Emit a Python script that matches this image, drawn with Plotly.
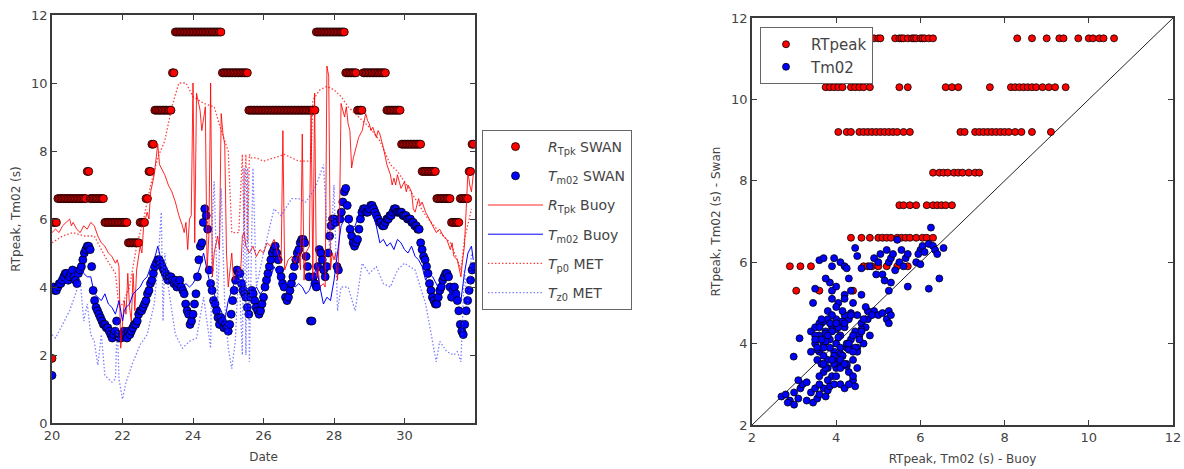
import numpy as np
import plotly.graph_objects as go

# ---------------- LEFT PANEL DATA (time series, day of month) ----------------
# SWAN output hourly starting day 20.0
swan_start_day = 20.0
# RTpeak SWAN is a stepped (binned) quantity: level and number of hourly outputs at that level
swan_rt_levels = [1.9, 5.9, 6.6, 7.4, 6.6, 5.9, 5.3, 5.9, 6.6, 7.4, 8.2, 9.2, 10.3, 11.5, 10.3, 9.2,
                  11.5, 10.3, 9.2, 10.3, 9.2, 8.2, 7.4, 6.6, 5.9, 6.6, 7.4, 8.2]
swan_rt_hours = [1, 3, 20, 2, 10, 16, 8, 4, 2, 2, 2, 12, 2, 32, 18, 46,
                 20, 8, 4, 16, 10, 14, 10, 10, 6, 6, 2, 2]
swan_tm02 = [
    1.4, 4.0, 3.9, 3.9, 4.0, 4.1, 4.1, 4.2, 4.3, 4.4, 4.4, 4.2, 4.3, 4.4, 4.5, 4.3, 4.2, 4.1, 4.4, 4.5, 4.6, 4.8, 5.0, 5.1,
    5.2, 5.2, 5.1, 4.6, 3.9, 3.6, 3.4, 3.3, 3.2, 3.1, 3.0, 2.9, 2.9, 2.8, 2.8, 2.7, 2.6, 2.5, 2.6, 2.7, 3.0, 2.6, 2.5, 2.5,
    2.6, 2.7, 2.6, 2.5, 2.7, 2.6, 2.7, 2.8, 2.9, 2.9, 3.0, 3.2, 3.3, 3.3, 3.4, 3.5, 3.6, 3.8, 3.9, 4.1, 4.2, 4.4, 4.6, 4.7,
    4.8, 4.8, 4.7, 4.6, 4.5, 4.4, 4.3, 4.2, 4.3, 4.3, 4.2, 4.1, 4.2, 4.0, 4.1, 4.2, 4.0, 3.9, 3.8, 3.5, 3.3, 3.2, 2.9, 3.0,
    3.2, 3.5, 3.8, 4.3, 4.8, 5.2, 5.3, 5.9, 6.3, 6.1, 5.7, 4.5, 4.1, 3.9, 3.6, 3.5, 3.3, 3.1, 2.9, 3.1, 3.0, 2.8, 2.9, 2.8,
    2.7, 2.9, 3.2, 3.6, 3.9, 4.2, 4.5, 4.4, 4.4, 4.1, 3.9, 3.8, 3.7, 3.4, 3.2, 3.7, 3.9, 3.8, 3.6, 3.4, 3.3, 3.2, 3.3, 3.5,
    3.7, 4.0, 4.2, 4.4, 4.6, 4.8, 5.0, 5.1, 5.2, 5.0, 4.8, 4.5, 4.3, 4.1, 4.0, 3.7, 3.6, 3.7, 3.9, 4.1, 4.3, 4.6, 4.8, 5.0,
    5.1, 5.3, 5.4, 5.4, 5.3, 4.9, 4.6, 4.3, 3.0, 3.0, 4.3, 4.1, 4.0, 4.6, 5.1, 5.0, 4.8, 4.5, 4.3, 4.6, 5.0, 5.5, 5.8, 6.0,
    6.0, 5.9, 4.6, 4.5, 6.0, 6.2, 6.5, 6.8, 6.9, 6.4, 6.0, 5.7, 5.5, 5.3, 5.2, 5.3, 5.4, 5.7, 6.0, 6.2, 6.3, 6.3, 6.2, 6.2,
    6.3, 6.4, 6.4, 6.3, 6.2, 6.1, 6.0, 5.9, 5.9, 5.8, 5.8, 5.9, 6.0, 6.0, 6.1, 6.1, 6.2, 6.3, 6.3, 6.2, 6.2, 6.2, 6.2, 6.1,
    6.1, 6.1, 6.0, 6.0, 6.0, 5.9, 5.9, 5.8, 5.8, 5.7, 5.7, 5.3, 5.1, 4.9, 4.8, 4.6, 4.4, 4.1, 3.9, 3.7, 3.6, 3.5, 3.5, 3.7,
    3.9, 4.0, 4.2, 4.3, 4.4, 4.4, 4.3, 4.0, 3.7, 3.9, 4.0, 3.8, 3.6, 3.3, 2.9, 2.7, 2.6, 2.9, 3.3, 3.6, 3.9, 4.2, 4.5, 4.6]

buoy_rt_day = [20.0, 20.1, 20.2, 20.3, 20.4, 20.5, 20.55, 20.6, 20.7, 20.8, 20.9, 21.0, 21.1, 21.2, 21.3, 21.4,
    21.5, 21.6, 21.7, 21.8, 21.85, 21.9, 21.95, 22.0, 22.05, 22.1, 22.15, 22.2, 22.25, 22.3, 22.35, 22.4,
    22.5, 22.55, 22.6, 22.7, 22.75, 22.8, 22.9, 23.0, 23.05, 23.1, 23.2, 23.3, 23.4, 23.5, 23.6, 23.7,
    23.75, 23.8, 23.85, 23.9, 23.95, 24.0, 24.05, 24.1, 24.15, 24.2, 24.25, 24.3, 24.35, 24.4, 24.45, 24.5,
    24.55, 24.6, 24.7, 24.75, 24.8, 24.85, 24.9, 24.95, 25.0, 25.05, 25.1, 25.15, 25.2, 25.3, 25.35, 25.4,
    25.45, 25.5, 25.6, 25.7, 25.8, 25.9, 26.0, 26.1, 26.2, 26.3, 26.4, 26.5, 26.55, 26.6, 26.7, 26.8,
    26.9, 27.0, 27.05, 27.1, 27.15, 27.2, 27.3, 27.35, 27.4, 27.45, 27.5, 27.55, 27.6, 27.7, 27.75, 27.8,
    27.85, 27.9, 27.95, 28.0, 28.05, 28.1, 28.15, 28.2, 28.25, 28.3, 28.35, 28.4, 28.45, 28.5, 28.55, 28.6,
    28.7, 28.8, 28.85, 28.9, 28.95, 29.0, 29.05, 29.1, 29.2, 29.25, 29.3, 29.4, 29.5, 29.6, 29.65, 29.7,
    29.75, 29.8, 29.9, 30.0, 30.05, 30.1, 30.2, 30.25, 30.3, 30.4, 30.45, 30.5, 30.6, 30.7, 30.8, 30.9,
    31.0, 31.1, 31.2, 31.3, 31.35, 31.4, 31.5, 31.6, 31.65, 31.7, 31.75, 31.8, 31.85, 31.9, 31.95]
buoy_rtpeak = [5.6, 5.7, 5.6, 5.8, 5.9, 6.0, 5.8, 5.9, 5.7, 5.6, 5.8, 5.7, 5.9, 5.8, 5.5, 5.3,
    5.2, 5.0, 4.9, 4.7, 4.8, 4.6, 2.2, 3.0, 3.6, 3.2, 4.4, 3.4, 3.0, 4.4, 3.3, 4.5,
    5.2, 5.0, 5.8, 6.2, 6.0, 6.8, 7.3, 8.2, 7.6, 7.5, 7.3, 7.0, 6.8, 6.5, 6.1, 5.8,
    5.6, 5.9, 5.1, 6.0, 6.1, 10.0, 5.3, 9.7, 9.4, 9.2, 8.6, 8.9, 9.3, 4.5, 5.5, 10.0,
    4.3, 5.0, 5.5, 5.1, 9.1, 8.5, 8.2, 5.0, 4.0, 4.5, 5.0, 4.2, 4.3, 4.6, 4.4, 5.5,
    5.6, 5.2, 5.0, 5.2, 4.9, 5.1, 5.0, 5.3, 5.2, 5.4, 5.0, 4.7, 8.6, 4.5, 4.8, 4.9,
    4.7, 5.0, 4.5, 8.5, 4.2, 5.0, 5.2, 9.3, 4.2, 9.7, 4.3, 4.6, 4.0, 4.1, 4.0, 10.5,
    10.2, 4.5, 5.0, 4.8, 5.0, 4.2, 5.5, 9.4, 9.2, 9.0, 9.3, 8.8, 8.6, 7.5, 7.8, 8.0,
    8.4, 8.6, 8.9, 9.1, 8.9, 8.8, 8.6, 8.7, 8.4, 8.6, 8.5, 8.1, 7.6, 7.3, 7.0, 7.2,
    7.0, 7.3, 6.9, 7.1, 6.8, 7.0, 6.8, 6.3, 6.2, 6.6, 6.4, 6.5, 6.2, 6.0, 5.8, 5.6,
    5.7, 5.5, 5.4, 5.1, 5.3, 4.9, 4.8, 4.3, 4.8, 5.2, 6.3, 7.4, 7.0, 6.8, 7.3]

buoy_tm_day = [20.0, 20.1, 20.2, 20.3, 20.4, 20.5, 20.6, 20.7, 20.8, 20.9, 21.0, 21.1, 21.2, 21.3, 21.4, 21.5,
    21.6, 21.7, 21.8, 21.9, 22.0, 22.05, 22.1, 22.2, 22.3, 22.4, 22.5, 22.6, 22.7, 22.8, 22.9, 23.0,
    23.05, 23.1, 23.2, 23.3, 23.4, 23.5, 23.6, 23.7, 23.8, 23.9, 24.0, 24.1, 24.2, 24.3, 24.4, 24.5,
    24.6, 24.7, 24.8, 24.9, 25.0, 25.1, 25.2, 25.3, 25.4, 25.5, 25.6, 25.7, 25.8, 25.9, 26.0, 26.1,
    26.2, 26.3, 26.4, 26.5, 26.6, 26.7, 26.8, 26.9, 27.0, 27.1, 27.2, 27.3, 27.4, 27.5, 27.6, 27.7,
    27.8, 27.9, 28.0, 28.1, 28.2, 28.3, 28.4, 28.5, 28.6, 28.7, 28.8, 28.9, 29.0, 29.1, 29.2, 29.3,
    29.4, 29.5, 29.6, 29.7, 29.8, 29.9, 30.0, 30.1, 30.2, 30.3, 30.4, 30.5, 30.6, 30.7, 30.8, 30.9,
    31.0, 31.1, 31.2, 31.3, 31.4, 31.5, 31.6, 31.7, 31.8, 31.9, 31.95]
buoy_tm02 = [4.0, 3.9, 4.2, 4.3, 4.1, 4.5, 4.4, 4.3, 4.6, 4.4, 4.3, 4.3, 3.8, 3.7, 3.6, 3.8,
    3.5, 3.4, 3.2, 3.6, 3.0, 3.3, 3.4, 3.5, 3.8, 3.9, 4.0, 4.2, 4.3, 4.6, 4.8, 5.2,
    5.0, 4.7, 4.6, 4.5, 4.3, 4.1, 4.2, 4.0, 4.1, 4.0, 4.1, 4.3, 4.6, 5.0, 4.5, 4.0,
    3.8, 3.5, 3.3, 3.0, 3.6, 3.9, 4.2, 4.6, 4.3, 4.0, 3.9, 3.8, 4.0, 3.8, 3.9, 4.0,
    4.3, 4.6, 4.4, 4.0, 4.1, 4.1, 4.2, 4.0, 4.1, 4.0, 3.8, 3.9, 4.2, 4.6, 4.0, 3.5,
    3.7, 3.6, 4.2, 5.0, 5.8, 6.0, 5.9, 5.7, 5.8, 6.1, 6.3, 6.4, 6.3, 6.2, 5.8, 5.3,
    5.4, 5.2, 5.3, 5.1, 5.4, 5.3, 5.1, 5.0, 5.2, 4.9, 4.8, 4.6, 4.2, 4.4, 4.3, 4.1,
    3.9, 4.1, 4.0, 3.8, 3.7, 3.9, 3.6, 4.4, 5.0, 5.2, 4.8]

met_tp_day = [20.0, 20.3, 20.6, 20.9, 21.2, 21.5, 21.8, 21.9, 22.0, 22.2, 22.4, 22.6, 22.8, 23.0, 23.2, 23.4,
    23.6, 23.8, 24.0, 24.3, 24.6, 24.8, 25.0, 25.1, 25.3, 25.4, 25.45, 25.5, 25.55, 25.6, 25.65, 25.8,
    26.0, 26.3, 26.6, 26.8, 27.0, 27.2, 27.35, 27.4, 27.6, 27.8, 28.0, 28.2, 28.4, 28.7, 29.0, 29.3,
    29.6, 29.8, 30.0, 30.3, 30.6, 31.0, 31.3, 31.5, 31.6, 31.7, 31.9]
met_tp0 = [5.3, 5.5, 5.6, 5.5, 5.5, 4.9, 4.4, 3.4, 3.5, 4.0, 5.2, 6.0, 7.0, 7.8, 8.3, 9.3,
    10.0, 10.0, 9.6, 9.4, 9.3, 8.6, 8.0, 5.6, 5.6, 7.9, 5.5, 7.9, 5.3, 7.9, 7.8, 7.8,
    7.7, 7.8, 7.9, 7.8, 7.7, 7.7, 7.7, 9.5, 9.8, 9.9, 9.8, 9.6, 9.3, 9.0, 8.7, 8.3,
    7.6, 7.4, 7.1, 6.6, 6.1, 5.6, 5.3, 4.8, 4.5, 5.4, 6.3]

met_tz_day = [20.0, 20.1, 20.3, 20.5, 20.7, 20.8, 20.9, 21.0, 21.1, 21.2, 21.3, 21.4, 21.5, 21.6, 21.7, 21.8,
    21.85, 21.9, 22.0, 22.1, 22.3, 22.5, 22.7, 22.9, 23.0, 23.1, 23.15, 23.2, 23.3, 23.5, 23.7, 23.9,
    24.1, 24.3, 24.5, 24.55, 24.6, 24.7, 24.8, 24.9, 25.0, 25.1, 25.2, 25.3, 25.4, 25.45, 25.5, 25.55,
    25.6, 25.7, 25.8, 26.0, 26.3, 26.5, 26.8, 27.0, 27.2, 27.4, 27.5, 27.7, 27.8, 27.9, 28.0, 28.1,
    28.2, 28.4, 28.6, 28.8, 29.0, 29.2, 29.4, 29.6, 29.8, 30.0, 30.3, 30.6, 30.8, 30.9, 31.0, 31.2,
    31.4, 31.5, 31.6, 31.7, 31.8, 31.9]
met_tz0 = [2.6, 2.5, 2.9, 3.3, 3.9, 4.2, 3.0, 3.5, 2.6, 2.4, 1.7, 2.6, 1.4, 1.3, 1.2, 1.3,
    3.0, 1.3, 0.7, 1.2, 1.8, 2.3, 2.6, 3.5, 4.6, 6.2, 3.0, 5.0, 4.0, 2.6, 2.2, 2.4,
    2.5, 3.7, 2.2, 6.0, 7.1, 3.5, 6.9, 3.5, 2.2, 1.6, 2.4, 4.6, 2.0, 7.5, 2.0, 7.5,
    1.8, 7.5, 4.0, 5.0, 6.3, 6.1, 6.6, 6.6, 6.5, 6.8, 7.0, 7.6, 5.8, 5.0, 7.0, 3.3,
    4.0, 4.0, 3.3, 4.7, 4.4, 4.6, 4.1, 4.0, 4.5, 4.7, 4.5, 3.5, 2.3, 1.8, 2.4, 2.1,
    2.0, 2.1, 1.8, 4.5, 3.4, 5.0]

# ---------------- RIGHT PANEL DATA (scatter Buoy vs SWAN) ----------------
rt_buoy = [4.9, 5.0, 5.05, 5.4, 5.5, 5.55, 5.6, 5.7, 5.8, 5.85, 5.9, 6.0, 6.05, 6.1, 6.2, 6.3,
    8.3, 8.65, 9.0, 9.3, 9.4, 9.75, 10.0, 10.1, 10.25, 10.35, 10.6,
    3.75, 3.85, 3.95, 4.05, 4.15, 4.35, 4.45, 4.55, 4.65, 4.8, 5.5, 5.7, 6.6, 6.75, 6.9, 7.65,
    8.15, 8.25, 8.35, 8.45, 8.55, 8.65, 8.75, 8.9, 9.05, 9.2, 9.45,
    4.05, 4.25, 4.35, 4.55, 4.65, 4.75, 4.85, 4.95, 5.05, 5.15, 5.25, 5.35, 5.45, 5.6, 5.75,
    6.95, 7.05, 7.3, 7.4, 7.5, 7.6, 7.7, 7.8, 7.9, 8.0, 8.1, 8.25, 8.4, 8.65, 9.1,
    6.3, 6.45, 6.55, 6.65, 6.8, 6.9, 7.0, 7.15, 7.3, 7.4,
    5.5, 5.6, 5.75, 5.9, 6.15, 6.3, 6.4, 6.5, 6.6, 6.75,
    4.35, 4.6, 4.8, 5.0, 5.1, 5.2, 5.3, 5.45, 5.55, 5.65, 5.75, 5.9, 6.05, 6.15, 6.3,
    2.9, 3.15, 3.4, 4.65, 4.75, 4.85, 5.0, 5.2, 5.45, 5.7,
    3.05, 3.6, 4.4]
rt_swan = [11.5] * 27 + [10.3] * 27 + [9.2] * 30 + [8.2] * 10 + [7.4] * 10 + [6.6] * 15 + [5.9] * 10 + [5.3] * 3

tm_buoy = [2.7, 2.8, 2.9, 3.0, 3.0, 3.1, 3.15, 2.85, 3.2, 3.3, 3.4, 3.5, 3.45, 3.55, 3.6, 3.7, 3.75, 3.8, 3.3, 3.1,
    2.99, 3.13,
    3.4, 3.5, 3.5, 3.55, 3.6, 3.6, 3.65, 3.7, 3.7, 3.75, 3.8, 3.8, 3.85, 3.9, 3.9, 3.95, 4.0, 4.0, 4.0, 4.05,
    4.1, 4.1, 4.15, 4.2, 4.2, 4.25, 4.3, 4.3, 4.35, 4.4, 4.4, 4.45, 4.5, 4.5, 4.55, 4.6, 4.65, 4.7, 4.75, 4.8,
    3.9, 3.85, 3.75, 4.0, 4.2, 4.35, 4.4, 4.4, 4.45, 4.2, 3.6, 3.85, 3.95,
    3.6, 3.7, 3.95, 4.1, 4.2, 4.25, 4.3, 4.45, 4.5, 4.6, 3.5, 3.45, 3.9,
    4.8, 4.9, 5.0, 5.05, 5.1, 5.2, 5.25, 5.3, 5.35, 5.4, 5.45, 5.5, 5.55, 5.6, 5.65, 5.7, 5.3, 4.95, 5.7,
    6.0, 6.05, 6.1, 6.2, 6.25, 6.3, 6.35, 6.4, 6.55, 6.45, 6.2, 5.9, 5.95, 6.0,
    4.6, 4.7, 4.75, 4.9, 5.0, 5.1, 5.2, 5.25, 5.3, 5.25, 5.15, 5.25, 4.85,
    3.65, 3.8, 4.05, 4.25, 3.55, 3.75, 4.15, 4.35, 4.6, 4.1, 3.9, 4.3,
    3.65, 3.75, 3.85, 4.0, 4.1, 4.2, 4.3, 3.95, 4.05, 4.15, 4.25, 3.7,
    3.5, 3.6, 3.7, 3.8, 3.9, 4.0, 4.1, 4.2, 4.3, 4.4, 4.5, 4.6,
    3.55, 3.65, 3.75, 3.85, 3.95, 4.05, 4.15, 4.25, 4.35, 4.45, 4.55, 4.65,
    3.6, 3.7, 3.8, 3.9, 4.0, 4.1, 4.2, 4.3, 4.4, 4.5,
    3.4, 3.5, 3.6, 3.7, 3.8, 3.9, 4.0, 4.1]
tm_swan = [2.7, 2.75, 2.6, 2.5, 2.8, 2.65, 2.9, 2.55, 3.0, 3.05, 2.8, 2.9, 2.55, 2.65, 2.75, 2.9, 2.7, 2.85, 2.6, 3.1,
    3.68, 4.13,
    4.3, 4.0, 4.4, 3.6, 4.2, 3.8, 4.5, 3.3, 4.0, 4.3, 3.6, 4.8, 4.1, 3.2, 4.4, 3.8, 4.0, 4.6, 3.4, 5.0,
    4.2, 3.0, 3.7, 4.4, 5.2, 3.9, 3.3, 4.6, 4.1, 3.6, 5.0, 4.3, 3.9, 4.7, 4.2, 4.5, 4.0, 4.4, 4.8, 4.2,
    5.3, 5.5, 5.6, 5.4, 5.1, 5.3, 3.1, 3.2, 2.95, 2.9, 3.0, 2.95, 3.0,
    6.05, 6.1, 6.1, 6.0, 5.9, 5.85, 5.6, 6.35, 6.15, 5.85, 5.35, 5.0, 5.9,
    5.9, 6.1, 6.0, 6.2, 5.7, 6.3, 6.0, 6.1, 6.2, 5.8, 6.55, 6.0, 6.3, 5.9, 6.1, 6.2, 5.5, 5.7, 5.4,
    6.3, 6.4, 6.25, 6.45, 6.85, 6.4, 6.3, 6.2, 6.35, 5.6, 5.35, 6.0, 6.2, 5.95,
    5.2, 4.9, 4.6, 4.8, 4.7, 4.75, 4.6, 4.8, 4.7, 5.3, 5.55, 4.5, 4.7,
    3.5, 3.4, 3.55, 3.45, 3.85, 4.05, 4.55, 4.75, 4.35, 3.45, 4.7, 3.95,
    4.1, 4.25, 3.9, 4.35, 3.75, 4.5, 3.85, 3.5, 4.15, 3.7, 4.0, 4.55,
    4.2, 4.5, 3.9, 4.6, 4.3, 4.9, 3.6, 4.7, 4.0, 4.2, 3.8, 4.3,
    3.9, 4.6, 3.4, 4.5, 3.7, 4.4, 4.8, 3.5, 4.7, 3.9, 4.1, 4.6,
    3.2, 3.5, 3.1, 3.6, 3.2, 3.4, 3.5, 3.0, 3.8, 3.4,
    3.8, 4.1, 4.4, 3.7, 4.2, 5.1, 4.5, 3.9]

swan_rtpeak = np.repeat(swan_rt_levels, swan_rt_hours)
swan_day = swan_start_day + np.arange(len(swan_tm02)) / 24.0

FONT = "DejaVu Sans"
AX_COLOR = "#3a3a3a"
TXT_COLOR = "#444444"
edge = dict(color="black", width=0.8)
DOTS = "1.5px,2px"

fig = go.Figure()

# ---- left panel ----
fig.add_trace(go.Scatter(x=swan_day, y=swan_rtpeak, mode="markers",
    marker=dict(color="#ff0000", size=8, line=edge),
    name="<i>R</i><sub>Tpk</sub> SWAN", legend="legend", legendgroup="g1",
    xaxis="x", yaxis="y"))
fig.add_trace(go.Scatter(x=swan_day, y=swan_tm02, mode="markers",
    marker=dict(color="#0000ff", size=8, line=edge),
    name="<i>T</i><sub>m02</sub> SWAN", legend="legend", legendgroup="g2",
    xaxis="x", yaxis="y"))
fig.add_trace(go.Scatter(x=buoy_rt_day, y=buoy_rtpeak, mode="lines",
    line=dict(color="rgba(255,0,0,0.85)", width=1),
    name="<i>R</i><sub>Tpk</sub> Buoy", legend="legend", legendgroup="g3",
    xaxis="x", yaxis="y"))
fig.add_trace(go.Scatter(x=buoy_tm_day, y=buoy_tm02, mode="lines",
    line=dict(color="#0000ff", width=1),
    name="<i>T</i><sub>m02</sub> Buoy", legend="legend", legendgroup="g4",
    xaxis="x", yaxis="y"))
fig.add_trace(go.Scatter(x=met_tp_day, y=met_tp0, mode="lines",
    line=dict(color="rgba(255,0,0,0.75)", width=1.3, dash=DOTS),
    name="<i>T</i><sub>p0</sub> MET", legend="legend", legendgroup="g5",
    xaxis="x", yaxis="y"))
fig.add_trace(go.Scatter(x=met_tz_day, y=met_tz0, mode="lines",
    line=dict(color="rgba(60,60,255,0.65)", width=1.3, dash=DOTS),
    name="<i>T</i><sub>z0</sub> MET", legend="legend", legendgroup="g6",
    xaxis="x", yaxis="y"))

# ---- right panel ----
fig.add_trace(go.Scatter(x=[2, 12], y=[2, 12], mode="lines",
    line=dict(color="#222222", width=1), showlegend=False,
    xaxis="x2", yaxis="y2", hoverinfo="skip"))
fig.add_trace(go.Scatter(x=rt_buoy, y=rt_swan, mode="markers",
    marker=dict(color="#ff0000", size=7, line=edge),
    name="RTpeak", legend="legend2", xaxis="x2", yaxis="y2"))
fig.add_trace(go.Scatter(x=tm_buoy, y=tm_swan, mode="markers",
    marker=dict(color="#0000ff", size=7, line=edge),
    name="Tm02", legend="legend2", xaxis="x2", yaxis="y2"))

axis_common = dict(showline=True, linecolor=AX_COLOR, linewidth=1.5, mirror="ticks",
                   ticks="inside", ticklen=5, tickcolor=AX_COLOR, showgrid=False,
                   zeroline=False, automargin=False,
                   tickfont=dict(family=FONT, size=13, color=TXT_COLOR))
title_font = dict(family=FONT, size=12, color=TXT_COLOR)

fig.update_layout(
    width=1184, height=469,
    margin=dict(l=0, r=0, t=0, b=0, autoexpand=False),
    paper_bgcolor="white", plot_bgcolor="white",
    font=dict(family=FONT, color=TXT_COLOR),
    xaxis=dict(domain=[52 / 1184, 475 / 1184], range=[20, 32], tickvals=[20, 22, 24, 26, 28, 30],
               title=dict(text="Date", font=title_font, standoff=10), anchor="y", **axis_common),
    yaxis=dict(domain=[1 - 423 / 469, 1 - 15 / 469], range=[0, 12], tickvals=[0, 2, 4, 6, 8, 10, 12],
               title=dict(text="RTpeak, Tm02 (s)", font=title_font, standoff=8), anchor="x", **axis_common),
    xaxis2=dict(domain=[752 / 1184, 1173 / 1184], range=[2, 12], tickvals=[2, 4, 6, 8, 10, 12],
                title=dict(text="RTpeak, Tm02 (s) - Buoy", font=title_font, standoff=10), anchor="y2", **axis_common),
    yaxis2=dict(domain=[1 - 425 / 469, 1 - 18 / 469], range=[2, 12], tickvals=[2, 4, 6, 8, 10, 12],
                title=dict(text="RTpeak, Tm02 (s) - Swan", font=title_font, standoff=8), anchor="x2", **axis_common),
    legend=dict(x=482 / 1184, y=1 - 130 / 469, xanchor="left", yanchor="top",
                bordercolor="#666666", borderwidth=1, bgcolor="white",
                font=dict(family=FONT, size=14, color=TXT_COLOR),
                traceorder="grouped", tracegroupgap=8, itemwidth=55),
    legend2=dict(x=760 / 1184, y=1 - 27 / 469, xanchor="left", yanchor="top",
                 bordercolor="#666666", borderwidth=1, bgcolor="white",
                 font=dict(family=FONT, size=15, color=TXT_COLOR), itemwidth=40),
    showlegend=True,
)

fig.write_html("out.html")
